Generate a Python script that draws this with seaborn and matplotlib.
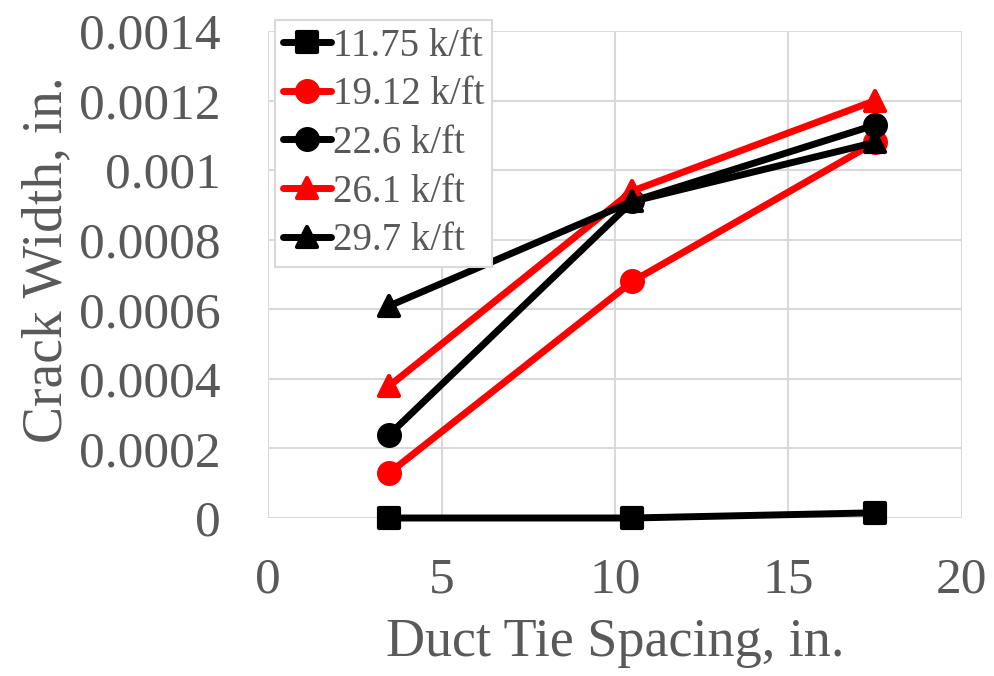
import matplotlib
matplotlib.use("Agg")
import matplotlib.pyplot as plt
from matplotlib.markers import MarkerStyle
import seaborn as sns
import pandas as pd

# Crack width vs. duct tie spacing for several line loads
spacing = [3.5, 10.5, 17.5]
loads = ["11.75 k/ft", "19.12 k/ft", "22.6 k/ft", "26.1 k/ft", "29.7 k/ft"]
w_1175 = [0.0, 0.0, 0.000015]
w_1912 = [0.00013, 0.00068, 0.00108]
w_226 = [0.00024, 0.00091, 0.00113]
w_261 = [0.00038, 0.00094, 0.00120]
w_297 = [0.00061, 0.00091, 0.00108]
widths = [w_1175, w_1912, w_226, w_261, w_297]

colors = ["#000000", "#ff0000", "#000000", "#ff0000", "#000000"]
markers = ["s", "o", "o", "^", "^"]

x_ticks = [0, 5, 10, 15, 20]
y_ticks = [0, 0.0002, 0.0004, 0.0006, 0.0008, 0.001, 0.0012, 0.0014]
y_tick_labels = ["0", "0.0002", "0.0004", "0.0006", "0.0008", "0.001", "0.0012", "0.0014"]

df = pd.DataFrame(
    [(s, w, load) for load, ws in zip(loads, widths) for s, w in zip(spacing, ws)],
    columns=["spacing", "width", "load"],
)

sns.set_theme(style="white")
plt.rcParams["font.family"] = ["Liberation Serif", "DejaVu Serif"]
text_gray = "#595959"
grid_gray = "#d9d9d9"

fig = plt.figure(figsize=(9.95, 6.76), dpi=100)
ax = fig.add_axes([268 / 995, 1 - 518 / 676, (962 - 268) / 995, (518 - 31) / 676])

for load, color, mk in zip(loads, colors, markers):
    sub = df[df["load"] == load]
    sns.lineplot(
        data=sub, x="spacing", y="width", ax=ax, color=color, label=load,
        linewidth=5, marker=MarkerStyle(mk, joinstyle="round"),
        markersize=15, markeredgewidth=3, markeredgecolor=color,
        markerfacecolor=color, solid_capstyle="round",
        clip_on=False,
    )

ax.set_xlim(0, 20)
ax.set_ylim(0, 0.0014)
ax.set_xticks(x_ticks)
ax.set_xticklabels([str(t) for t in x_ticks])
ax.set_yticks(y_ticks)
ax.set_yticklabels(y_tick_labels)
ax.grid(True, color=grid_gray, linewidth=1.5)
ax.set_axisbelow(True)
for sp in ax.spines.values():
    sp.set_visible(False)

ax.tick_params(axis="both", length=0, labelsize=37, labelcolor=text_gray)
ax.tick_params(axis="y", pad=34)
ax.tick_params(axis="x", pad=28)

ax.set_xlabel("Duct Tie Spacing, in.", fontsize=39, color=text_gray)
ax.xaxis.set_label_coords(0.5, -0.205, transform=ax.transAxes)
ax.xaxis.label.set_va("top")
ax.set_ylabel("Crack Width, in.", fontsize=40, color=text_gray)
ax.yaxis.set_label_coords(-0.28, 0.53, transform=ax.transAxes)

leg = ax.legend(
    loc="upper left", bbox_to_anchor=(275 / 995, 1 - 20 / 676),
    bbox_transform=fig.transFigure, fontsize=28, frameon=True,
    fancybox=False, edgecolor=grid_gray, framealpha=1,
    handlelength=1.25, handletextpad=0.03, labelspacing=0.3,
    borderpad=0.2, borderaxespad=0, labelcolor=text_gray,
)
leg.get_frame().set_linewidth(1.5)

fig.savefig("out.png", dpi=100)
